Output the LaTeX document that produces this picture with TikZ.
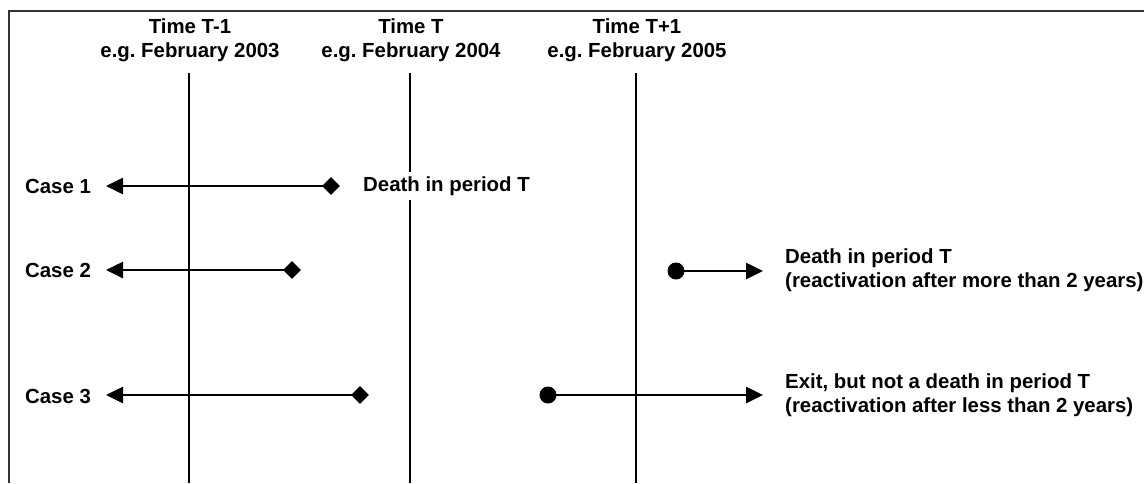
\documentclass[tikz,border=0pt]{standalone}
\usepackage{fontspec}
\setmainfont{Liberation Sans}
\usetikzlibrary{arrows.meta,shapes.geometric}
\frenchspacing
\begin{document}
\begin{tikzpicture}[x=1pt,y=-1pt,
  txt/.style={font=\fontsize{20.4}{24}\selectfont\bfseries\frenchspacing, inner sep=0pt},
  hdr/.style={txt, align=center},
  lbl/.style={txt, anchor=west, align=left},
  timeline/.style={line width=1.8pt},
  conn/.style={line width=2.6pt, -{Triangle[length=17pt,width=16pt]}},
  dia/.style={diamond, fill=black, minimum width=18pt, minimum height=18pt, inner sep=0pt},
  dot/.style={circle, fill=black, minimum size=17pt, inner sep=0pt}]
\useasboundingbox (0,0) rectangle (1144,483);
\fill[white] (0,0) rectangle (1144,483);
% frame
\draw[line width=1.6pt, black!80] (9,483) -- (9,11) -- (1144,11);
% headers
\node[hdr] (h1) at (190,40) {Time T-1\\e.g. February 2003};
\node[hdr] (h2) at (411,40) {Time T\\e.g. February 2004};
\node[hdr] (h3) at (637,40) {Time T+1\\e.g. February 2005};
% time lines
\coordinate (t1a) at (189,73); \coordinate (t1b) at (189,483);
\coordinate (t2a) at (410,73); \coordinate (t2b) at (410,483);
\coordinate (t3a) at (636,73); \coordinate (t3b) at (636,483);
\draw[timeline] (t1a) -- (t1b);
\draw[timeline] (t2a) -- (t2b);
\draw[timeline] (t3a) -- (t3b);
% case labels
\node[txt] (c1) at (58,186) {Case 1};
\node[txt] (c2) at (58,270) {Case 2};
\node[txt] (c3) at (58,396) {Case 3};
% case 1
\coordinate (l1) at (106,186);
\node[dia] (d1) at (331,186) {};
\draw[conn] (d1.center) -- (l1);
\node[lbl, fill=white, inner xsep=2pt, inner ysep=4pt] (e1) at (361,186) {Death in period T};
% case 2
\coordinate (l2) at (106,270);
\node[dia] (d2) at (292,270) {};
\draw[conn] (d2.center) -- (l2);
\node[dot] (o2) at (676,271) {};
\coordinate (r2) at (763,271);
\draw[conn] (o2.center) -- (r2);
\node[lbl] (e2) at (785,270) {Death in period T\\(reactivation after more than 2 years)};
% case 3
\coordinate (l3) at (106,395);
\node[dia] (d3) at (360,395) {};
\draw[conn] (d3.center) -- (l3);
\node[dot] (o3) at (548,395) {};
\coordinate (r3) at (763,395);
\draw[conn] (o3.center) -- (r3);
\node[lbl] (e3) at (785,395) {Exit, but not a death in period T\\(reactivation after less than 2 years)};
\end{tikzpicture}
\end{document}
